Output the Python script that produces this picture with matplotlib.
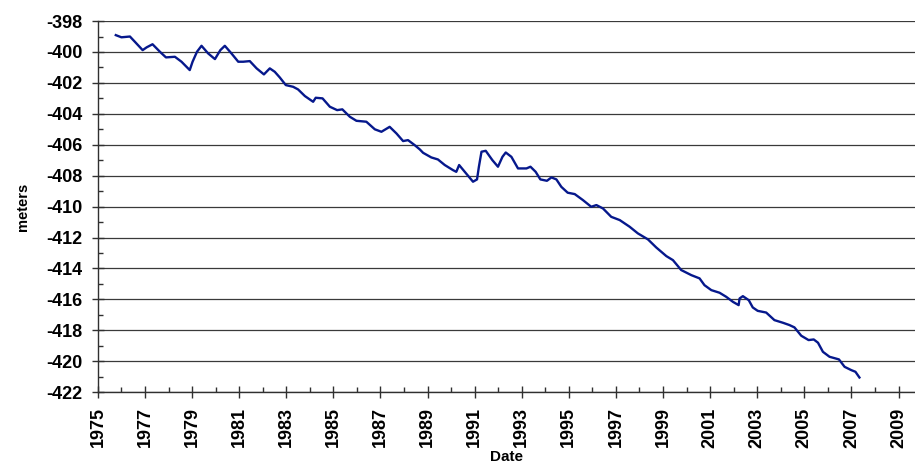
import numpy as np
import matplotlib
matplotlib.use("Agg")
import matplotlib.pyplot as plt
from matplotlib.ticker import MultipleLocator

plt.rcParams['font.family'] = ['Liberation Sans', 'DejaVu Sans']
plt.rcParams['font.weight'] = 'bold'
plt.rcParams['axes.unicode_minus'] = False

# level readings (decimal year, meters)
years = [1975.76, 1976.00, 1976.36, 1976.57, 1976.90, 1977.07, 1977.32, 1977.63,
         1977.89, 1978.27, 1978.55, 1978.90, 1979.02, 1979.21, 1979.40, 1979.68,
         1979.97, 1980.20, 1980.39, 1980.67, 1980.96, 1981.17, 1981.45, 1981.74,
         1982.05, 1982.30, 1982.51, 1982.72, 1982.98, 1983.29, 1983.50, 1983.79,
         1984.14, 1984.25, 1984.54, 1984.85, 1985.16, 1985.38, 1985.70, 1985.98,
         1986.40, 1986.76, 1987.04, 1987.39, 1987.68, 1987.96, 1988.17, 1988.45,
         1988.67, 1988.81, 1989.16, 1989.44, 1989.73, 1990.08, 1990.22, 1990.34,
         1990.58, 1990.93, 1991.10, 1991.18, 1991.29, 1991.47, 1991.75, 1991.99,
         1992.18, 1992.32, 1992.56, 1992.84, 1993.20, 1993.37, 1993.59, 1993.79,
         1994.07, 1994.26, 1994.47, 1994.68, 1994.95, 1995.25, 1995.60, 1995.95,
         1996.17, 1996.45, 1996.80, 1997.16, 1997.58, 1997.93, 1998.36, 1998.71,
         1999.14, 1999.42, 1999.77, 2000.20, 2000.55, 2000.76, 2001.05, 2001.40,
         2001.68, 2001.97, 2002.21, 2002.25, 2002.39, 2002.64, 2002.81, 2003.02,
         2003.38, 2003.73, 2004.09, 2004.37, 2004.58, 2004.87, 2005.18, 2005.40,
         2005.58, 2005.79, 2006.07, 2006.47, 2006.71, 2006.99, 2007.17, 2007.34]
levels = [-398.91, -399.05, -399.00, -399.34, -399.88, -399.70, -399.50, -399.98,
          -400.35, -400.31, -400.63, -401.17, -400.63, -399.98, -399.60, -400.09,
          -400.46, -399.88, -399.60, -400.09, -400.63, -400.63, -400.59, -401.06,
          -401.45, -401.06, -401.28, -401.64, -402.14, -402.25, -402.42, -402.85,
          -403.22, -402.96, -403.00, -403.54, -403.76, -403.71, -404.19, -404.45,
          -404.51, -405.00, -405.16, -404.84, -405.27, -405.76, -405.70, -406.02,
          -406.30, -406.52, -406.82, -406.95, -407.31, -407.64, -407.75, -407.31,
          -407.75, -408.39, -408.24, -407.42, -406.45, -406.39, -406.99, -407.42,
          -406.78, -406.50, -406.78, -407.53, -407.53, -407.42, -407.75, -408.24,
          -408.33, -408.11, -408.24, -408.72, -409.10, -409.19, -409.58, -410.01,
          -409.90, -410.12, -410.66, -410.87, -411.30, -411.73, -412.12, -412.64,
          -413.20, -413.46, -414.10, -414.43, -414.64, -415.08, -415.40, -415.57,
          -415.83, -416.16, -416.37, -415.94, -415.79, -416.05, -416.52, -416.74,
          -416.85, -417.34, -417.51, -417.66, -417.81, -418.35, -418.63, -418.59,
          -418.80, -419.39, -419.71, -419.88, -420.36, -420.57, -420.68, -421.05]

fig = plt.figure(figsize=(9.15, 4.68), dpi=100)
ax = fig.add_axes([0.107, 0.162, 0.893, 0.793])

ax.plot(years, levels, color='#06188c', lw=1.7, zorder=3)

ax.set_xlim(1975, 2009.7)
ax.set_ylim(-422, -398)
ax.xaxis.set_major_locator(MultipleLocator(2))
ax.xaxis.set_minor_locator(MultipleLocator(1))
ax.yaxis.set_major_locator(MultipleLocator(2))
ax.yaxis.set_minor_locator(MultipleLocator(1))
ax.set_xticks(np.arange(1975, 2010, 2))

ax.grid(axis='y', which='major', color='#3a3a3a', lw=0.9)
for s in ['top', 'right']:
    ax.spines[s].set_visible(False)
for s in ['left', 'bottom']:
    ax.spines[s].set_color('#303030')
    ax.spines[s].set_linewidth(1.0)

ax.tick_params(which='major', direction='inout', length=8, width=1.0,
               color='#303030', labelsize=13)
ax.tick_params(which='minor', direction='in', length=3.5, width=1.0, color='#303030')
ax.tick_params(axis='y', which='major', pad=7)
ax.tick_params(axis='x', which='major', pad=7)
plt.setp(ax.get_xticklabels(), rotation=90)

ax.set_ylabel('meters', fontsize=10.5, fontweight='bold', labelpad=12)
ax.set_xlabel('Date', fontsize=11, fontweight='bold', labelpad=2)

fig.savefig('out.png', dpi=100)
